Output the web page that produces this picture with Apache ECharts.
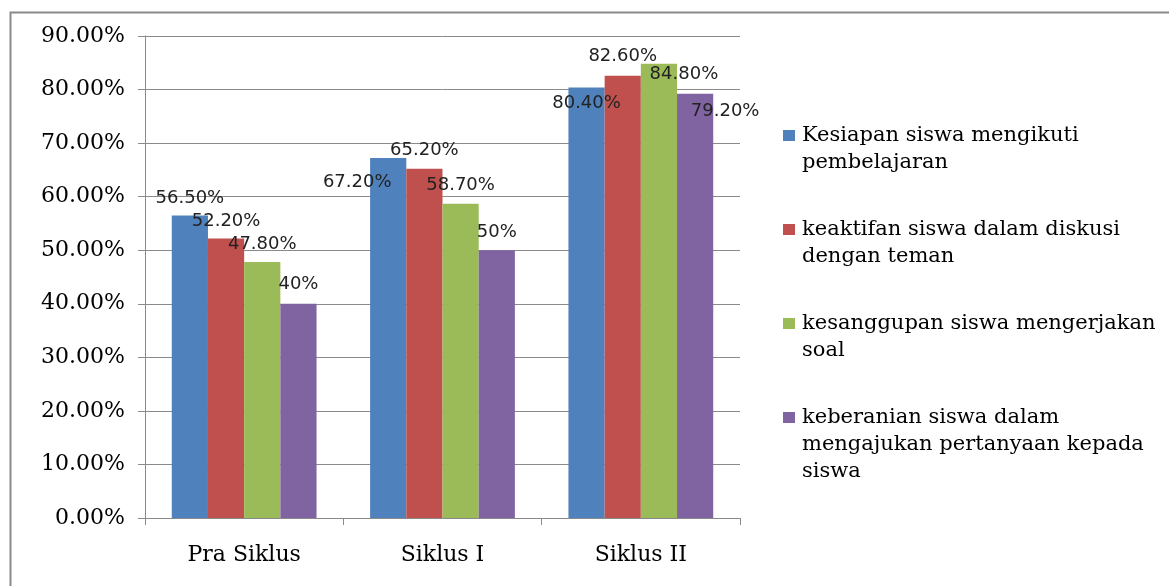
<!DOCTYPE html>
<html>
<head>
<meta charset="utf-8">
<script src="https://cdn.jsdelivr.net/npm/echarts@6/dist/echarts.min.js"></script>
<style>
html,body{margin:0;padding:0;background:#fff;}
#chart{width:1169px;height:586px;}
</style>
</head>
<body>
<div id="chart"></div>
<script>
const categories = ['Pra Siklus', 'Siklus I', 'Siklus II'];
const seriesNames = [
  'Kesiapan siswa mengikuti\npembelajaran',
  'keaktifan siswa dalam diskusi\ndengan teman',
  'kesanggupan siswa mengerjakan\nsoal',
  'keberanian siswa dalam\nmengajukan pertanyaan kepada\nsiswa'
];
const kesiapan = [56.5, 67.2, 80.4];
const keaktifan = [52.2, 65.2, 82.6];
const kesanggupan = [47.8, 58.7, 84.8];
const keberanian = [40, 50, 79.2];
const yMin = 0, yMax = 90, yInterval = 10;

const colors = ['#4F81BD', '#C0504D', '#9BBB59', '#8064A2'];
// label nudges (layout only, mimicking the original label placement)
const labelNudge = [
  [[0, 1], [-31, 42], [0, 34]],
  [[0, 1], [0, 0], [0, -1]],
  [[0, 0], [0, 0], [25, 28]],
  [[0, -1], [0, 0], [30, 35]]
];

const allValues = [kesiapan, keaktifan, kesanggupan, keberanian];

function fmtLabel(v) {
  return Number.isInteger(v) ? v + '%' : v.toFixed(2) + '%';
}

const chart = echarts.init(document.getElementById('chart'), null, {renderer: 'canvas'});

const series = allValues.map((vals, si) => ({
  name: seriesNames[si],
  type: 'bar',
  barGap: 0,
  barCategoryGap: '27%',
  itemStyle: {color: colors[si]},
  label: {
    show: true,
    position: 'top',
    distance: 9,
    fontFamily: 'DejaVu Sans',
    fontSize: 18,
    color: '#222',
    formatter: p => fmtLabel(p.value)
  },
  data: vals.map((v, ci) => ({
    value: v,
    label: {offset: labelNudge[si][ci]}
  }))
}));

const rich = {
  t: {fontFamily: 'DejaVu Serif', fontSize: 21, lineHeight: 27, color: '#000'},
  g: {width: 7, height: 11},
  p: {width: 19, height: 11}
};
colors.forEach((c, i) => {
  rich['s' + i] = {width: 12, height: 11, backgroundColor: c, verticalAlign: 'middle'};
});

chart.setOption({
  animation: false,
  backgroundColor: '#fff',
  graphic: [{
    type: 'rect',
    left: 8, top: 10,
    shape: {x: 0, y: 0, width: 1300, height: 700},
    style: {fill: 'none', stroke: '#8a8a8a', lineWidth: 2},
    silent: true
  }],
  grid: {left: 145, right: 429, top: 36, bottom: 68, containLabel: false},
  legend: {
    orient: 'vertical',
    left: 778,
    top: 125,
    padding: 0,
    itemGap: 46,
    itemWidth: 0,
    itemHeight: 0,
    icon: 'rect',
    selectedMode: false,
    data: seriesNames,
    formatter: name => {
      const idx = seriesNames.indexOf(name);
      const lines = name.split('\n');
      return lines.map((ln, i) => (i === 0 ? '{s' + idx + '|}{g|}' : '{p|}') + '{t|' + ln + '}').join('\n');
    },
    textStyle: {fontFamily: 'DejaVu Serif', fontSize: 21, color: '#000', rich: rich}
  },
  xAxis: {
    type: 'category',
    data: categories,
    axisLine: {lineStyle: {color: '#8a8a8a', width: 1}},
    axisTick: {show: true, length: 7, lineStyle: {color: '#8a8a8a'}},
    axisLabel: {fontFamily: 'DejaVu Serif', fontSize: 22, color: '#000', margin: 26}
  },
  yAxis: {
    type: 'value',
    min: yMin, max: yMax, interval: yInterval,
    axisLine: {show: true, lineStyle: {color: '#8a8a8a', width: 1}},
    axisTick: {show: true, length: 7, lineStyle: {color: '#8a8a8a'}},
    splitLine: {show: true, lineStyle: {color: '#8a8a8a', width: 1}},
    axisLabel: {
      fontFamily: 'DejaVu Serif', fontSize: 22, color: '#000', margin: 20,
      formatter: v => v.toFixed(2) + '%'
    }
  },
  series: series
});
</script>
</body>
</html>
